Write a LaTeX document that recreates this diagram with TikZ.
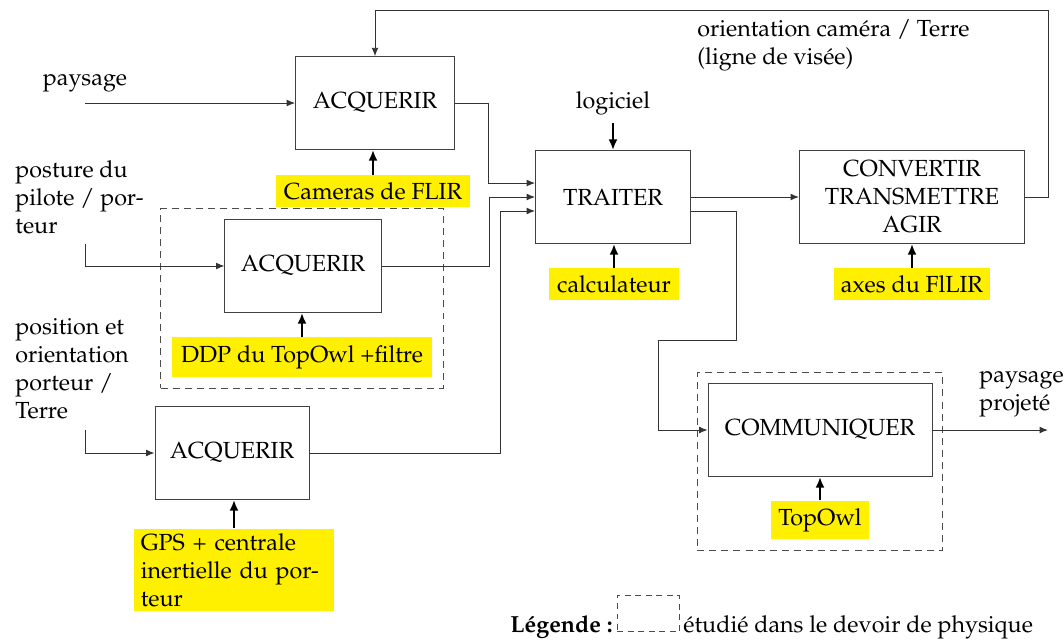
\documentclass[tikz,border=0pt]{standalone}
\usepackage[T1]{fontenc}
\usepackage{mathpazo}
\usetikzlibrary{arrows.meta,positioning,fit}
\definecolor{surligne}{RGB}{255,240,0}
\tikzset{
  bloc/.style={draw=black!75, minimum width=67pt, minimum height=39.8pt, inner sep=2pt},
  moyen/.style={fill=surligne, inner xsep=3pt, inner ysep=2pt, minimum height=13.7pt},
  fleche/.style={draw=black!80, -{Latex[length=3.6pt,width=2.9pt]}},
  support/.style={line width=1.1pt, -{Latex[length=4.6pt,width=3.8pt]}},
  etude/.style={draw=black!70, dash pattern=on 3pt off 2.2pt, inner sep=4.5pt},
  texte/.style={align=left, anchor=north west, inner sep=0pt}
}
\begin{document}
\begin{tikzpicture}[x=0.4292pt,y=-0.4292pt]
\useasboundingbox (0,0) rectangle (1064,641);
% blocs fonctionnels
\node[bloc, minimum width=68.2pt] (acq1) at (375,103) {ACQUERIR};
\node[bloc] (acq2) at (303,266) {ACQUERIR};
\node[bloc, minimum width=66.1pt] (acq3) at (232,453) {ACQUERIR};
\node[bloc, minimum width=66.5pt] (trait) at (613,197) {TRAITER};
\node[bloc, minimum width=96.6pt, align=center] (conv) at (912,197) {CONVERTIR\\TRANSMETTRE\\AGIR};
\node[bloc, minimum width=96.1pt] (comm) at (820,430) {COMMUNIQUER};
% supports
\node[moyen, minimum width=83.3pt] (cam) at (373,191) {Cameras de FLIR};
\node[moyen, minimum width=112pt, minimum height=17.2pt] (ddp) at (302,357) {DDP du TopOwl +filtre};
\node[moyen, text width=80pt, align=left] (gps) at (234,570) {GPS + centrale\\inertielle du por-\\teur};
\node[moyen, minimum width=56.2pt] (calc) at (614,284) {calculateur};
\node[moyen, minimum width=67pt] (axes) at (912,284) {axes du FlLIR};
\node[moyen, minimum width=41.6pt, minimum height=16.7pt] (topowl) at (820,520) {TopOwl};
% entrees / sorties
\node (paysage) at (85,83) {paysage};
\node (logiciel) at (613,103) {logiciel};
\node[texte] (posture) at (15,160) {posture du\\pilote / por-\\teur};
\node[texte] (position) at (15,318) {position et\\orientation\\porteur /\\Terre};
\node[texte] (visee) at (697,19) {orientation caméra / Terre\\(ligne de visée)};
\node[texte] (projete) at (979,371) {paysage\\projeté};
\coordinate (e1) at (85,103);
\coordinate (e2) at (85,244);
\coordinate (e3) at (85,430);
\coordinate (s1) at (1048,430);
% zones etudiees
\node[etude, fit=(acq2)(ddp)] (zone1) {};
\node[etude, fit=(comm)(topowl)] (zone2) {};
% liaisons
\draw[fleche] (e1) -- (acq1);
\draw[fleche] (e2) |- (acq2.west);
\draw[fleche] (e3) |- (acq3.west);
\draw[fleche] (acq1.east) -- ++(34,0) |- ([yshift=6pt]trait.west);
\draw[fleche] (acq2.east) -- ++(108,0) |- (trait.west);
\draw[fleche] (acq3.east) -- ++(191,0) |- ([yshift=-6pt]trait.west);
\draw[support] (logiciel) -- (trait);
\draw[fleche] (trait.east) -- (conv.west);
\draw[fleche] ([yshift=-6pt]trait.east) -- ++(46,0) -- ++(0,129) -- ++(-78,0) |- (comm.west);
\draw[fleche] (conv.east) -- ++(23,0) -- ++(0,-187) -| (acq1.north);
\draw[fleche] (comm.east) -- (s1);
\foreach \m/\b in {cam/acq1,ddp/acq2,gps/acq3,calc/trait,axes/conv,topowl/comm}
  \draw[support] (\m.north) -- (\m.north |- \b.south);
% legende
\node[anchor=base west, inner sep=0pt] (leg) at (510,632) {\textbf{Légende :}};
\node[etude, anchor=south west, minimum width=26.6pt, minimum height=15.5pt, inner sep=0pt, dash pattern=on 2.5pt off 2pt] (legzone) at (617,632) {};
\node[anchor=base west, inner sep=0pt] (legtexte) at (683,632) {étudié dans le devoir de physique};
\end{tikzpicture}
\end{document}
